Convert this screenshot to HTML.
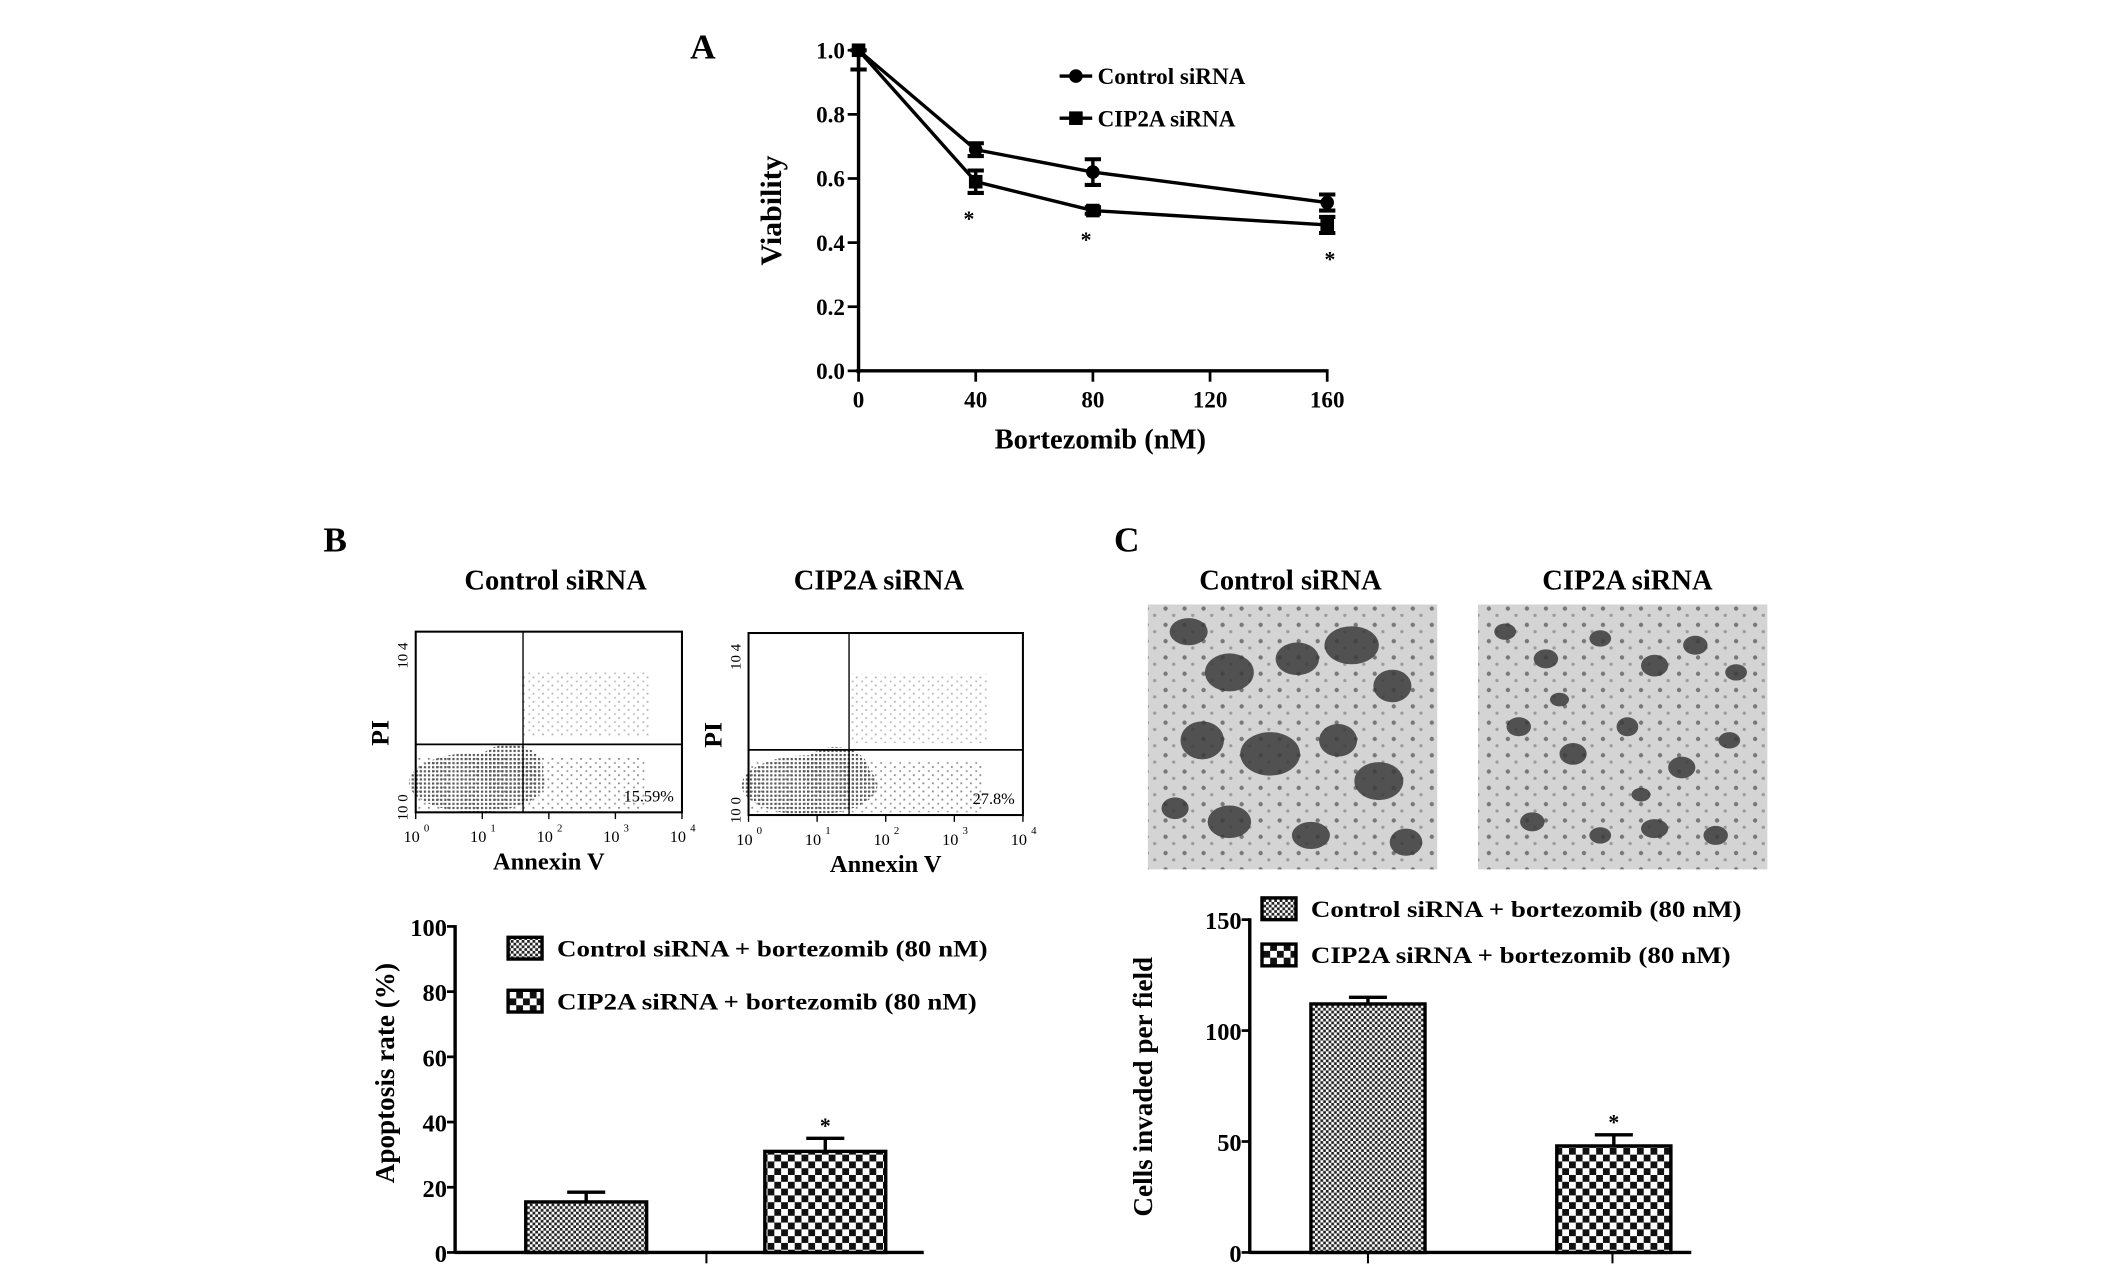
<!DOCTYPE html>
<html><head><meta charset="utf-8"><style>
html,body{margin:0;padding:0;background:#fff}
svg{display:block;font-family:"Liberation Serif",serif;font-weight:bold}
</style></head><body>
<svg id="fig" width="2126" height="1275" viewBox="0 0 1565 938.6" xmlns="http://www.w3.org/2000/svg">
<defs>
<pattern id="fine" width="4" height="4" patternUnits="userSpaceOnUse"><rect width="4" height="4" fill="#fff"/><rect width="2" height="2" fill="#222"/><rect x="2" y="2" width="2" height="2" fill="#222"/></pattern>
<pattern id="coarse" width="10" height="10" patternUnits="userSpaceOnUse"><rect width="10" height="10" fill="#fff"/><rect width="5" height="5" fill="#111"/><rect x="5" y="5" width="5" height="5" fill="#111"/></pattern>
<pattern id="dots" width="3" height="3" patternUnits="userSpaceOnUse"><rect width="1.6" height="1.6" fill="#555"/></pattern>
<pattern id="sdots" width="7" height="6" patternUnits="userSpaceOnUse"><rect width="1.3" height="1.3" fill="#666"/><rect x="4" y="3" width="1.3" height="1.3" fill="#777"/></pattern>
<pattern id="cells" width="14" height="12" patternUnits="userSpaceOnUse"><rect width="14" height="12" fill="#d4d4d4"/><circle cx="4" cy="4" r="1.6" fill="#777"/><circle cx="10" cy="9" r="1.2" fill="#999"/></pattern>
</defs>
<g id="panelA"></g>
<g id="panelB"></g>
<g id="panelC"></g>
</svg>
<script>
// Panel A data
const doses = [0, 40, 80, 160];
const xTicks = [0, 40, 80, 120, 160];
const yTicksA = [0.0, 0.2, 0.4, 0.6, 0.8, 1.0];
const controlVals = [1.0, 0.69, 0.62, 0.525];
const controlErr = [0.0, 0.02, 0.04, 0.025];
const cipVals = [1.0, 0.59, 0.50, 0.455];
const cipErr = [0.06, 0.035, 0.01, 0.025];
const starDoses = [40, 80, 160];
// Panel B bars
const apopVals = [15.5, 31];
const apopErr = [3, 4];
const apopTicks = [0, 20, 40, 60, 80, 100];
// Panel C bars
const invVals = [112, 48];
const invErr = [3, 5];
const invTicks = [0, 50, 100, 150];
const legendLabels = ["Control siRNA + bortezomib (80 nM)", "CIP2A siRNA + bortezomib (80 nM)"];

const NS = "http://www.w3.org/2000/svg";
function mk(parent, tag, attrs, text) {
  const e = document.createElementNS(NS, tag);
  for (const k in attrs) e.setAttribute(k, attrs[k]);
  if (text !== undefined) e.textContent = text;
  parent.appendChild(e);
  return e;
}

// ---------- Panel A ----------
const A = document.getElementById('panelA');
const ax = v => 632 + (v / 160) * 345;
const ay = v => 273 - v * 236;
let t;
t = mk(A, 'text', {x: 508, y: 43, 'font-size': 26}, 'A');
 
t = mk(A, 'line', {x1: 632, y1: ay(1.0) - 2, x2: 632, y2: 275, stroke: '#000', 'stroke-width': 2.5});
 
t = mk(A, 'line', {x1: 630, y1: 273, x2: ax(160) + 1, y2: 273, stroke: '#000', 'stroke-width': 2.5});
 
yTicksA.forEach(v => {
  const l = mk(A, 'line', {x1: 624, y1: ay(v), x2: 632, y2: ay(v), stroke: '#000', 'stroke-width': 2});
   
  const s = mk(A, 'text', {x: 622, y: ay(v) + 6, 'font-size': 17, 'text-anchor': 'end'}, v.toFixed(1));
   
});
xTicks.forEach(v => {
  const l = mk(A, 'line', {x1: ax(v), y1: 273, x2: ax(v), y2: 281, stroke: '#000', 'stroke-width': 2});
   
  const s = mk(A, 'text', {x: ax(v), y: 300, 'font-size': 17, 'text-anchor': 'middle'}, String(v));
   
});
t = mk(A, 'text', {x: 810, y: 330, 'font-size': 21, 'text-anchor': 'middle'}, 'Bortezomib (nM)');
 
t = mk(A, 'text', {x: 0, y: 0, 'font-size': 22, 'text-anchor': 'middle', transform: 'translate(575,155) rotate(-90)'}, 'Viability');
 
function series(vals, errs, shape, name) {
  const g = mk(A, 'g', {});
   
  mk(g, 'polyline', {points: doses.map((d, i) => ax(d) + ',' + ay(vals[i])).join(' '), fill: 'none', stroke: '#000', 'stroke-width': 2.5});
  doses.forEach((d, i) => {
    const x = ax(d), y1 = ay(Math.min(1, vals[i] + errs[i])), y2 = ay(vals[i] - errs[i]);
    if (errs[i] > 0) {
      mk(g, 'line', {x1: x, y1: y1, x2: x, y2: y2, stroke: '#000', 'stroke-width': 2.5});
      mk(g, 'line', {x1: x - 6, y1: y1, x2: x + 6, y2: y1, stroke: '#000', 'stroke-width': 3});
      mk(g, 'line', {x1: x - 6, y1: y2, x2: x + 6, y2: y2, stroke: '#000', 'stroke-width': 3});
    }
    const m = shape === 'c' ? mk(g, 'circle', {cx: x, cy: ay(vals[i]), r: 5, fill: '#000'})
                            : mk(g, 'rect', {x: x - 5, y: ay(vals[i]) - 5, width: 10, height: 10, fill: '#000'});
     
  });
}
series(controlVals, controlErr, 'c', 'control-sirna-series');
series(cipVals, cipErr, 's', 'cip2a-sirna-series');
starDoses.forEach((d, i) => {
  const v = cipVals[doses.indexOf(d)] - cipErr[doses.indexOf(d)] - 0.07;
  const s = mk(A, 'text', {x: ax(d) - 5 + (i === 2 ? 7 : 0), y: ay(v) + 8, 'font-size': 16, 'text-anchor': 'middle'}, '*');
   
});
[['Control siRNA', 56, 'c'], ['CIP2A siRNA', 87, 's']].forEach(([lab, y, sh]) => {
  const g = mk(A, 'g', {});
   
  mk(g, 'line', {x1: 780, y1: y, x2: 804, y2: y, stroke: '#000', 'stroke-width': 2.5});
  if (sh === 'c') mk(g, 'circle', {cx: 792, cy: y, r: 5});
  else mk(g, 'rect', {x: 787, y: y - 5, width: 10, height: 10});
  mk(g, 'text', {x: 808, y: y + 6, 'font-size': 17}, lab);
});

// ---------- Bar chart helper ----------
function barChart(P, o) {
  const y = v => o.y0 - (v / o.max) * (o.y0 - o.yTop);
  let e = mk(P, 'line', {x1: o.axX, y1: o.yTop - 1, x2: o.axX, y2: o.y0 + 1, stroke: '#000', 'stroke-width': 2.5});
   
  e = mk(P, 'line', {x1: o.axX, y1: o.y0, x2: o.axEnd, y2: o.y0, stroke: '#000', 'stroke-width': 2.5});
   
  o.ticks.forEach(v => {
    const l = mk(P, 'line', {x1: o.axX - 6, y1: y(v), x2: o.axX, y2: y(v), stroke: '#000', 'stroke-width': 2});
     
    const s = mk(P, 'text', {x: o.axX - 6, y: y(v) + 7, 'font-size': 18, 'text-anchor': 'end'}, String(v));
     
  });
  o.xt.forEach(x => { const l = mk(P, 'line', {x1: x, y1: o.y0, x2: x, y2: o.y0 + 8, stroke: '#000', 'stroke-width': 1.5});
      });
  o.vals.forEach((v, i) => {
    const b = mk(P, 'rect', {x: o.bx[i], y: y(v), width: o.bw, height: o.y0 - y(v), fill: i ? 'url(#coarse)' : 'url(#fine)', stroke: '#000', 'stroke-width': 2.5});
     
    const cx = o.bx[i] + o.bw / 2, ye = y(v + o.err[i]);
    const eb = mk(P, 'path', {d: `M${cx},${y(v)}V${ye}M${cx - 14},${ye}H${cx + 14}`, stroke: '#000', 'stroke-width': 2.5, fill: 'none'});
     
  });
  const s = mk(P, 'text', {x: o.bx[1] + o.bw / 2, y: y(o.vals[1] + o.err[1]) - 4, 'font-size': 16, 'text-anchor': 'middle'}, '*');
   
  const yt = mk(P, 'text', {x: 0, y: 0, 'font-size': 20, 'text-anchor': 'middle', transform: `translate(${o.ylx},${o.yly}) rotate(-90)`}, o.ylabel);
   
  legendLabels.forEach((lab, i) => {
    const g = mk(P, 'g', {});
     
    mk(g, 'rect', {x: o.lx, y: o.ly[i] - 8, width: 25, height: 16, fill: i ? 'url(#coarse)' : 'url(#fine)', stroke: '#000', 'stroke-width': 2.5});
    mk(g, 'text', {x: o.lx + 36, y: o.ly[i] + 6, 'font-size': 17, textLength: o.tl[i], lengthAdjust: 'spacingAndGlyphs'}, lab);
  });
}

// ---------- Panel B ----------
const B = document.getElementById('panelB');
t = mk(B, 'text', {x: 238, y: 406, 'font-size': 26}, 'B');  
t = mk(B, 'text', {x: 409, y: 434, 'font-size': 21, 'text-anchor': 'middle'}, 'Control siRNA');  
t = mk(B, 'text', {x: 647, y: 434, 'font-size': 21, 'text-anchor': 'middle'}, 'CIP2A siRNA');  
function flow(x0, y0, x1, y1, qx, qy, pct, name) {
  const g = mk(B, 'g', {});
   
  mk(g, 'ellipse', {cx: x0 + 45, cy: y1 - 22, rx: 50, ry: 22, fill: 'url(#dots)'});
  mk(g, 'ellipse', {cx: qx - 10, cy: y1 - 32, rx: 25, ry: 18, fill: 'url(#dots)'});
  mk(g, 'rect', {x: x0 + 2, y: y1 - 40, width: (x1 - x0) * 0.85, height: 38, fill: 'url(#sdots)', opacity: 0.8});
  mk(g, 'rect', {x: qx, y: y0 + 30, width: (x1 - qx) * 0.8, height: qy - y0 - 35, fill: 'url(#sdots)', opacity: 0.5});
  mk(g, 'rect', {x: x0, y: y0, width: x1 - x0, height: y1 - y0, fill: 'none', stroke: '#000', 'stroke-width': 1.5});
  mk(g, 'line', {x1: qx, y1: y0, x2: qx, y2: y1, stroke: '#000', 'stroke-width': 1});
  mk(g, 'line', {x1: x0, y1: qy, x2: x1, y2: qy, stroke: '#000', 'stroke-width': 1.3});
  mk(g, 'text', {x: x1 - 6, y: y1 - 8, 'font-size': 12, 'font-weight': 'normal', 'text-anchor': 'end'}, pct);
  for (let i = 0; i <= 4; i++) {
    const xx = x0 + (x1 - x0) * i / 4;
    mk(g, 'text', {x: xx - 3, y: y1 + 22, 'font-size': 12, 'font-weight': 'normal', 'text-anchor': 'middle'}, '10');
    mk(g, 'text', {x: xx + 6, y: y1 + 14, 'font-size': 8, 'font-weight': 'normal'}, String(i));
    mk(g, 'line', {x1: xx, y1: y1, x2: xx, y2: y1 + 5, stroke: '#000'});
  }
  mk(g, 'text', {x: 0, y: 0, 'font-size': 11, 'font-weight': 'normal', transform: `translate(${x0 - 6},${y0 + 8}) rotate(-90)`, 'text-anchor': 'end'}, '10 4');
  mk(g, 'text', {x: 0, y: 0, 'font-size': 11, 'font-weight': 'normal', transform: `translate(${x0 - 6},${y1 + 6}) rotate(-90)`}, '10 0');
  mk(g, 'text', {x: 0, y: 0, 'font-size': 19, transform: `translate(${x0 - 20},${(y0 + y1) / 2 + 8}) rotate(-90)`, 'text-anchor': 'middle'}, 'PI');
  mk(g, 'text', {x: (x0 + x1) / 2, y: y1 + 42, 'font-size': 18, 'text-anchor': 'middle'}, 'Annexin V');
}
flow(306, 465, 502, 598, 385, 548, '15.59%', 'flow-plot-control');
flow(551, 466, 753, 600, 625, 552, '27.8%', 'flow-plot-cip2a');
barChart(B, {axX: 335, axEnd: 680, y0: 922, yTop: 682, max: 100, ticks: apopTicks, vals: apopVals, err: apopErr,
  bx: [387, 563], bw: 89, xt: [520], ylabel: 'Apoptosis rate (%)', ylx: 290, yly: 790, lx: 374, ly: [698, 737], tl: [317, 309]});

// ---------- Panel C ----------
const C = document.getElementById('panelC');
t = mk(C, 'text', {x: 820, y: 406, 'font-size': 26}, 'C');  
t = mk(C, 'text', {x: 950, y: 434, 'font-size': 21, 'text-anchor': 'middle'}, 'Control siRNA');  
t = mk(C, 'text', {x: 1198, y: 434, 'font-size': 21, 'text-anchor': 'middle'}, 'CIP2A siRNA');  
function micro(x, name, blobs) {
  const g = mk(C, 'g', {});
   
  mk(g, 'rect', {x: x, y: 445, width: 213, height: 195, fill: 'url(#cells)'});
  blobs.forEach(b => mk(g, 'ellipse', {cx: x + b[0], cy: 445 + b[1], rx: b[2], ry: b[3], fill: '#3a3a3a', opacity: 0.85}));
}
micro(845, 'invasion-image-control', [[30,20,14,10],[60,50,18,14],[110,40,16,12],[150,30,20,14],[180,60,14,12],[40,100,16,14],[90,110,22,16],[140,100,14,12],[170,130,18,14],[60,160,16,12],[120,170,14,10],[190,175,12,10],[20,150,10,8]]);
micro(1088, 'invasion-image-cip2a', [[20,20,8,6],[50,40,9,7],[90,25,8,6],[130,45,10,8],[160,30,9,7],[190,50,8,6],[30,90,9,7],[70,110,10,8],[110,90,8,7],[150,120,10,8],[185,100,8,6],[40,160,9,7],[90,170,8,6],[130,165,10,7],[175,170,9,7],[60,70,7,5],[120,140,7,5]]);
barChart(C, {axX: 920, axEnd: 1245, y0: 922, yTop: 677, max: 150, ticks: invTicks, vals: invVals, err: invErr,
  bx: [965, 1146], bw: 84, xt: [1007, 1187], ylabel: 'Cells invaded per field', ylx: 848, yly: 800, lx: 929, ly: [669, 703], tl: [317, 309]});
</script>
</body></html>
